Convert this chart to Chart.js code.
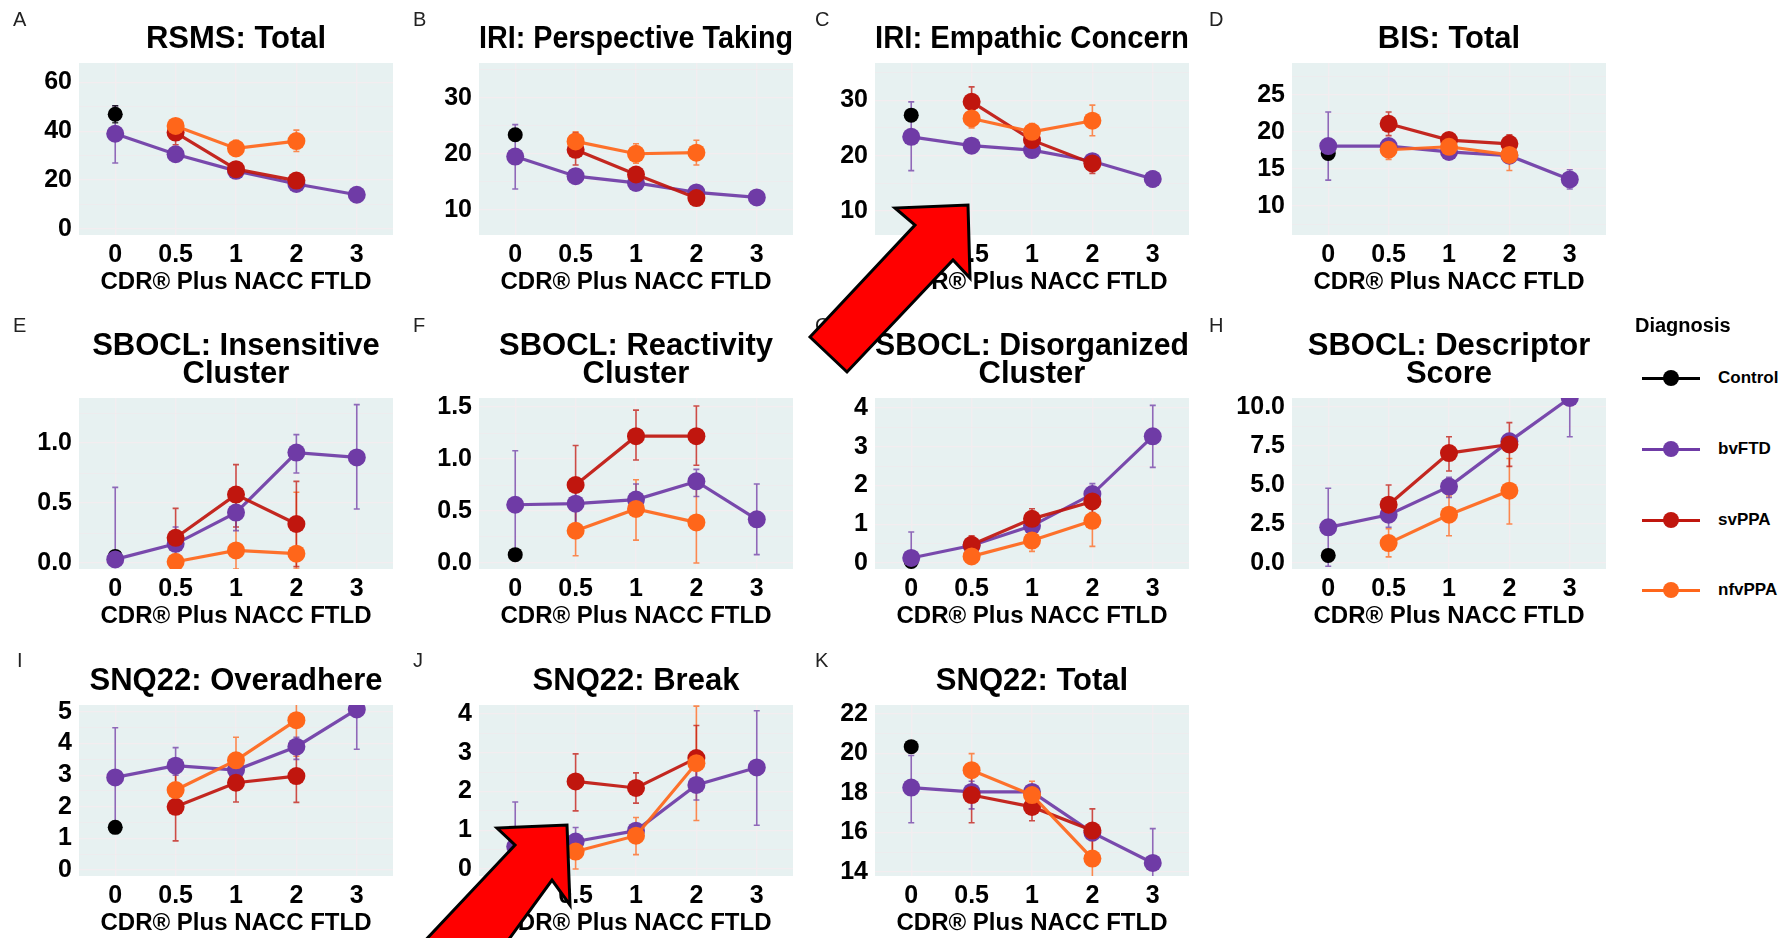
<!DOCTYPE html>
<html>
<head>
<meta charset="utf-8">
<script src="https://cdn.jsdelivr.net/npm/chart.js@4.4.1/dist/chart.umd.min.js"></script>
<style>
  body { margin: 0; background: #fff; width: 1785px; height: 938px; position: relative; overflow: hidden;
         font-family: 'Liberation Sans', Arial, sans-serif; }
  canvas { position: absolute; }
  .tag { position: absolute; font-size: 20px; line-height: 20px; color: #222; }
  .legend-title { position: absolute; left: 1635px; top: 313px; font-size: 20px; font-weight: bold; line-height: 24px; }
  .legend-row { position: absolute; left: 1642px; height: 20px; }
  .legend-row .ln { position: absolute; left: 0; top: 8.5px; width: 58px; height: 3px; }
  .legend-row .dot { position: absolute; left: 21px; top: 2px; width: 16px; height: 16px; border-radius: 50%; }
  .legend-row .lab { position: absolute; left: 76px; top: 0; font-size: 17px; font-weight: bold; line-height: 20px; white-space: nowrap; }
  svg.arrows { position: absolute; left: 0; top: 0; pointer-events: none; }
</style>
</head>
<body>
<script>
const _ = null;

const cdrLevels = ['0', '0.5', '1', '2', '3'];
const diagnoses = ['Control', 'bvFTD', 'svPPA', 'nfvPPA'];
const diagnosisColors = ['#000000', '#6f3ba6', '#c0160e', '#ff661a'];

// rows: Control, bvFTD, svPPA, nfvPPA   columns: CDR 0, 0.5, 1, 2, 3

// A  RSMS: Total
const rsmsMean = [[47, _, _, _, _], [39, 30.6, 23.8, 18.4, 14], [_, 39.5, 24.5, 19.8, _], [_, 42.2, 33, 36, _]];
const rsmsLow  = [[43.5, _, _, _, _], [27, 28.8, 22.3, 16.8, 12.3], [_, 34.5, 22.5, 18, _], [_, 40, 29.8, 31.7, _]];
const rsmsHigh = [[50.5, _, _, _, _], [50.5, 32.3, 25.3, 20, 15.7], [_, 43.5, 26.5, 21.5, _], [_, 44.5, 36.3, 40.5, _]];
const rsmsTicks = [0, 20, 40, 60];

// B  IRI: Perspective Taking
const iriPtMean = [[23.4, _, _, _, _], [19.5, 16, 14.8, 13.1, 12.2], [_, 20.7, 16.3, 12.1, _], [_, 22.2, 20, 20.2, _]];
const iriPtLow  = [[_, _, _, _, _], [13.7, 14.8, 13.8, 12.2, 11.4], [_, 18, 15.2, 10.8, _], [_, 20.7, 18.3, 18, _]];
const iriPtHigh = [[_, _, _, _, _], [25.2, 17.2, 15.8, 14, 13], [_, 23.7, 17.4, 13.7, _], [_, 23.9, 21.8, 22.4, _]];
const iriPtTicks = [10, 20, 30];

// C  IRI: Empathic Concern
const iriEcMean = [[27.3, _, _, _, _], [23.4, 21.8, 21, 19, 15.8], [_, 29.7, 22.8, 18.6, _], [_, 26.7, 24.3, 26.3, _]];
const iriEcLow  = [[_, _, _, _, _], [17.3, 20.8, 20.2, 18, 14.4], [_, 27, 21, 16.8, _], [_, 25, 22.8, 23.6, _]];
const iriEcHigh = [[_, _, _, _, _], [29.7, 22.8, 21.8, 20, 17.2], [_, 32.4, 24.5, 20.3, _], [_, 28, 25.8, 29.1, _]];
const iriEcTicks = [10, 20, 30];

// D  BIS: Total
const bisMean = [[17.1, _, _, _, _], [18.1, 18.1, 17.3, 16.8, 13.6], [_, 21.1, 18.9, 18.4, _], [_, 17.6, 18, 16.9, _]];
const bisLow  = [[_, _, _, _, _], [13.5, 17.3, 16.7, 16.2, 12.3], [_, 19.5, 18.2, 17.2, _], [_, 16.3, 17.2, 14.8, _]];
const bisHigh = [[_, _, _, _, _], [22.7, 18.9, 17.9, 17.4, 14.9], [_, 22.7, 19.6, 19.6, _], [_, 18.7, 18.7, 18.5, _]];
const bisTicks = [10, 15, 20, 25];

// E  SBOCL: Insensitive Cluster
const insensMean = [[0.055, _, _, _, _], [0.03, 0.16, 0.42, 0.92, 0.88], [_, 0.21, 0.57, 0.325, _], [_, 0.01, 0.105, 0.078, _]];
const insensLow  = [[_, _, _, _, _], [-0.03, 0.03, 0.27, 0.75, 0.45], [_, 0, 0.3, -0.03, _], [_, 0, -0.05, -0.05, _]];
const insensHigh = [[_, _, _, _, _], [0.63, 0.3, 0.57, 1.07, 1.32], [_, 0.455, 0.82, 0.68, _], [_, 0.02, 0.4, 0.59, _]];
const insensTicks = [0, 0.5, 1.0];

// F  SBOCL: Reactivity Cluster
const reactMean = [[0.08, _, _, _, _], [0.56, 0.57, 0.61, 0.785, 0.42], [_, 0.75, 1.22, 1.22, _], [_, 0.31, 0.52, 0.39, _]];
const reactLow  = [[_, _, _, _, _], [0.03, 0.35, 0.45, 0.64, 0.08], [_, 0.36, 0.99, 0.94, _], [_, 0.07, 0.22, 0, _]];
const reactHigh = [[_, _, _, _, _], [1.08, 0.76, 0.76, 0.9, 0.76], [_, 1.13, 1.47, 1.51, _], [_, 0.55, 0.8, 0.77, _]];
const reactTicks = [0, 0.5, 1.0, 1.5];

// G  SBOCL: Disorganized Cluster
const disorgMean = [[0.04, _, _, _, _], [0.13, 0.45, 0.96, 1.78, 3.27], [_, 0.47, 1.14, 1.59, _], [_, 0.17, 0.58, 1.09, _]];
const disorgLow  = [[_, _, _, _, _], [0, 0.3, 0.8, 1.55, 2.47], [_, 0.3, 0.95, 1.3, _], [_, 0.05, 0.3, 0.43, _]];
const disorgHigh = [[_, _, _, _, _], [0.8, 0.6, 1.1, 2.05, 4.07], [_, 0.7, 1.4, 1.97, _], [_, 0.3, 0.85, 1.66, _]];
const disorgTicks = [0, 1, 2, 3, 4];

// H  SBOCL: Descriptor Score
const descMean = [[0.49, _, _, _, _], [2.29, 3.1, 4.9, 7.8, 10.58], [_, 3.74, 7.05, 7.6, _], [_, 1.28, 3.1, 4.64, _]];
const descLow  = [[_, _, _, _, _], [-0.2, 2.3, 4.2, 7.2, 8.1], [_, 2.7, 5.9, 6.2, _], [_, 0.4, 1.75, 2.5, _]];
const descHigh = [[_, _, _, _, _], [4.8, 3.8, 5.5, 8.3, 12], [_, 5.0, 8.1, 9.0, _], [_, 2.2, 4.3, 6.7, _]];
const descTicks = [0, 2.5, 5, 7.5, 10];

// I  SNQ22: Overadhere
const overMean = [[1.35, _, _, _, _], [2.93, 3.3, 3.16, 3.9, 5.08], [_, 2.0, 2.76, 2.97, _], [_, 2.53, 3.47, 4.74, _]];
const overLow  = [[_, _, _, _, _], [1.3, 3.0, 2.95, 3.5, 3.82], [_, 0.92, 2.15, 2.14, _], [_, 1.9, 2.8, 3.6, _]];
const overHigh = [[_, _, _, _, _], [4.5, 3.87, 3.5, 4.2, 5.5], [_, 3.2, 3.4, 3.8, _], [_, 3.2, 4.2, 5.4, _]];
const overTicks = [0, 1, 2, 3, 4, 5];

// J  SNQ22: Break
const breakMean = [[0.4, _, _, _, _], [0.58, 0.71, 0.99, 2.17, 2.62], [_, 2.26, 2.09, 2.86, _], [_, 0.45, 0.86, 2.73, _]];
const breakLow  = [[_, _, _, _, _], [-0.5, 0.35, 0.85, 1.78, 1.13], [_, 1.5, 1.7, 2.0, _], [_, 0, 0.37, 1.25, _]];
const breakHigh = [[_, _, _, _, _], [1.73, 1.07, 1.15, 2.6, 4.08], [_, 2.97, 2.48, 3.7, _], [_, 0.8, 1.33, 4.2, _]];
const breakTicks = [0, 1, 2, 3, 4];

// K  SNQ22: Total
const snqMean = [[20.35, _, _, _, _], [18.28, 18.06, 18.06, 16.0, 14.46], [_, 17.9, 17.3, 16.1, _], [_, 19.16, 17.9, 14.68, _]];
const snqLow  = [[_, _, _, _, _], [16.5, 17.2, 17.7, 15.6, 13.6], [_, 16.5, 16.6, 15.0, _], [_, 18.4, 17.2, 13.7, _]];
const snqHigh = [[_, _, _, _, _], [19.9, 18.6, 18.4, 16.4, 16.2], [_, 19.0, 18.0, 17.2, _], [_, 20.0, 18.6, 15.6, _]];
const snqTicks = [14, 16, 18, 20, 22];

const panels = [
  { tag: 'A', title: ['RSMS: Total'], mean: rsmsMean, low: rsmsLow, high: rsmsHigh, ticks: rsmsTicks, yMin: -2.5, yMax: 68, dec: 0, col: 0, row: 0 },
  { tag: 'B', title: ['IRI: Perspective Taking'], mean: iriPtMean, low: iriPtLow, high: iriPtHigh, ticks: iriPtTicks, yMin: 5.5, yMax: 36.2, dec: 0, col: 1, row: 0 },
  { tag: 'C', title: ['IRI: Empathic Concern'], mean: iriEcMean, low: iriEcLow, high: iriEcHigh, ticks: iriEcTicks, yMin: 5.7, yMax: 36.7, dec: 0, col: 2, row: 0 },
  { tag: 'D', title: ['BIS: Total'], mean: bisMean, low: bisLow, high: bisHigh, ticks: bisTicks, yMin: 6.1, yMax: 29.3, dec: 0, col: 3, row: 0 },
  { tag: 'E', title: ['SBOCL: Insensitive', 'Cluster'], mean: insensMean, low: insensLow, high: insensHigh, ticks: insensTicks, yMin: -0.05, yMax: 1.375, dec: 1, col: 0, row: 1 },
  { tag: 'F', title: ['SBOCL: Reactivity', 'Cluster'], mean: reactMean, low: reactLow, high: reactHigh, ticks: reactTicks, yMin: -0.058, yMax: 1.587, dec: 1, col: 1, row: 1 },
  { tag: 'G', title: ['SBOCL: Disorganized', 'Cluster'], mean: disorgMean, low: disorgLow, high: disorgHigh, ticks: disorgTicks, yMin: -0.155, yMax: 4.26, dec: 0, col: 2, row: 1 },
  { tag: 'H', title: ['SBOCL: Descriptor', 'Score'], mean: descMean, low: descLow, high: descHigh, ticks: descTicks, yMin: -0.38, yMax: 10.58, dec: 1, col: 3, row: 1 },
  { tag: 'I', title: ['SNQ22: Overadhere'], mean: overMean, low: overLow, high: overHigh, ticks: overTicks, yMin: -0.19, yMax: 5.22, dec: 0, col: 0, row: 2 },
  { tag: 'J', title: ['SNQ22: Break'], mean: breakMean, low: breakLow, high: breakHigh, ticks: breakTicks, yMin: -0.18, yMax: 4.23, dec: 0, col: 1, row: 2 },
  { tag: 'K', title: ['SNQ22: Total'], mean: snqMean, low: snqLow, high: snqHigh, ticks: snqTicks, yMin: 13.8, yMax: 22.46, dec: 0, col: 2, row: 2 }
];

// page geometry
const plotLefts = [79, 479, 875, 1292];
const plotTops = [63, 398, 705];
const plotBottoms = [235, 569, 876];
const canvasTops = [0, 310, 650];
const titlePadTop = [26, 23, 18];
const tagLefts = [13, 413, 815, 1209];
const tagTops = [9, 315, 650];
const PLOT_W = 314, Y_AXIS_W = 76, X_AXIS_H = 64, PAD_R = 20;
const TITLE_SIZE = 31, TITLE_LH = 0.9;

const PANEL_BG = '#e7f1f1';
const GRID_MAJOR = '#f3edf0';
const GRID_MINOR = '#efebee';

Chart.defaults.font.family = "'Liberation Sans', Arial, sans-serif";
Chart.defaults.color = '#000';
Chart.defaults.animation = false;

const panelBackground = {
  id: 'panelBackground',
  beforeDraw(chart) {
    const { ctx, chartArea: a } = chart;
    ctx.save();
    ctx.fillStyle = PANEL_BG;
    ctx.fillRect(a.left, a.top, a.right - a.left, a.bottom - a.top);
    ctx.restore();
  }
};

const errorBars = {
  id: 'errorBars',
  beforeDatasetsDraw(chart) {
    const { ctx, chartArea: a, scales: { x, y } } = chart;
    ctx.save();
    ctx.beginPath();
    ctx.rect(a.left, a.top, a.right - a.left, a.bottom - a.top);
    ctx.clip();
    chart.data.datasets.slice().reverse().forEach(ds => {
      ds.data.forEach((p, i) => {
        const lo = ds.errLow[i], hi = ds.errHigh[i];
        if (lo == null || hi == null) return;
        const px = x.getPixelForValue(p.x);
        const y1 = y.getPixelForValue(lo), y2 = y.getPixelForValue(hi);
        ctx.strokeStyle = ds.errColor;
        ctx.lineWidth = 1.6;
        ctx.beginPath();
        ctx.moveTo(px, y1); ctx.lineTo(px, y2);
        ctx.moveTo(px - 3, y1); ctx.lineTo(px + 3, y1);
        ctx.moveTo(px - 3, y2); ctx.lineTo(px + 3, y2);
        ctx.stroke();
      });
    });
    ctx.restore();
  }
};

function hexA(hex, a) {
  const n = parseInt(hex.slice(1), 16);
  return `rgba(${n >> 16},${(n >> 8) & 255},${n & 255},${a})`;
}

function buildDatasets(p) {
  return diagnoses.map((name, g) => {
    const data = [], errLow = [], errHigh = [];
    p.mean[g].forEach((v, i) => {
      if (v == null) return;
      data.push({ x: i, y: v });
      errLow.push(p.low[g][i]);
      errHigh.push(p.high[g][i]);
    });
    const c = diagnosisColors[g];
    return {
      label: name,
      data, errLow, errHigh,
      errColor: hexA(c, 0.75),
      showLine: g > 0,
      borderColor: hexA(c, 0.92),
      borderWidth: 3.2,
      backgroundColor: c,
      pointBackgroundColor: c,
      pointBorderWidth: 0,
      pointRadius: g === 0 ? 7.5 : 9,
      pointHoverRadius: g === 0 ? 7.5 : 9,
      order: 3 - g
    };
  });
}

function minorTicks(major, min, max) {
  const step = major[1] - major[0];
  const out = [];
  for (let i = -1; i < major.length; i++) {
    const v = (i < 0 ? major[0] : major[i]) + (i < 0 ? -step / 2 : step / 2);
    if (v >= min && v <= max) out.push(v);
  }
  return out;
}

panels.forEach(p => {
  const left = plotLefts[p.col] - Y_AXIS_W;
  const top = canvasTops[p.row];
  const width = Y_AXIS_W + PLOT_W + PAD_R;
  const height = plotBottoms[p.row] + X_AXIS_H - top;
  const lineH = TITLE_SIZE * TITLE_LH;
  const padTop = titlePadTop[p.row];
  const padBottom = plotTops[p.row] - top - padTop - lineH * p.title.length;

  const cv = document.createElement('canvas');
  cv.width = width; cv.height = height;
  cv.style.left = left + 'px'; cv.style.top = top + 'px';
  cv.style.width = width + 'px'; cv.style.height = height + 'px';
  document.body.appendChild(cv);

  const tag = document.createElement('div');
  tag.className = 'tag';
  tag.textContent = p.tag;
  tag.style.left = (tagLefts[p.col] + (p.tag === 'I' ? 4 : 0)) + 'px';
  tag.style.top = tagTops[p.row] + 'px';
  document.body.appendChild(tag);

  const minors = minorTicks(p.ticks, p.yMin, p.yMax);
  const majorSet = new Set(p.ticks);

  new Chart(cv, {
    type: 'scatter',
    data: { datasets: buildDatasets(p) },
    options: {
      responsive: false,
      devicePixelRatio: 1,
      layout: { padding: { left: 0, top: 0, bottom: 0, right: PAD_R } },
      plugins: {
        legend: { display: false },
        tooltip: { enabled: false },
        title: {
          display: true,
          text: p.title,
          fullSize: false,
          color: '#000',
          font: { size: TITLE_SIZE, weight: 'bold', lineHeight: TITLE_LH },
          padding: { top: padTop, bottom: padBottom }
        }
      },
      scales: {
        x: {
          type: 'linear',
          min: -0.6,
          max: 4.6,
          afterBuildTicks: s => { s.ticks = cdrLevels.map((_l, i) => ({ value: i })); },
          afterFit: s => { s.height = X_AXIS_H; },
          ticks: {
            autoSkip: false, maxRotation: 0, padding: 5,
            font: { size: 25, weight: 'bold' }, color: '#000',
            callback: v => cdrLevels[v]
          },
          grid: { color: GRID_MAJOR, lineWidth: 1.3, drawTicks: false },
          border: { display: false },
          title: {
            display: true, text: 'CDR® Plus NACC FTLD', color: '#000',
            font: { size: 24, weight: 'bold' }, padding: { top: 0, bottom: 2 }
          }
        },
        y: {
          type: 'linear',
          min: p.yMin,
          max: p.yMax,
          afterBuildTicks: s => {
            s.ticks = p.ticks.concat(minors).sort((a, b) => a - b).map(v => ({ value: v }));
          },
          afterFit: s => { s.width = Y_AXIS_W; },
          ticks: {
            autoSkip: false,
            padding: 7, font: { size: 25, weight: 'bold' }, color: '#000',
            callback: v => majorSet.has(v) ? v.toFixed(p.dec) : ''
          },
          grid: {
            drawTicks: false,
            color: ctx => majorSet.has(ctx.tick && ctx.tick.value) ? GRID_MAJOR : GRID_MINOR,
            lineWidth: ctx => majorSet.has(ctx.tick && ctx.tick.value) ? 1.3 : 0.8
          },
          border: { display: false }
        }
      }
    },
    plugins: [panelBackground, errorBars]
  });
});

// legend
const lt = document.createElement('div');
lt.className = 'legend-title';
lt.textContent = 'Diagnosis';
document.body.appendChild(lt);
const legendYs = [378, 449, 520, 590];
diagnoses.forEach((name, g) => {
  const row = document.createElement('div');
  row.className = 'legend-row';
  row.style.top = (legendYs[g] - 10) + 'px';
  row.innerHTML = `<div class="ln" style="background:${diagnosisColors[g]}"></div>` +
    `<div class="dot" style="background:${diagnosisColors[g]}"></div>` +
    `<div class="lab">${name}</div>`;
  document.body.appendChild(row);
});

// red annotation arrows laid over the figure
const svgNS = 'http://www.w3.org/2000/svg';
const svg = document.createElementNS(svgNS, 'svg');
svg.setAttribute('class', 'arrows');
svg.setAttribute('width', 1785);
svg.setAttribute('height', 938);
const arrowShapes = [
  '810,337 915,225 895,208 968,205 970,278 953,260 847,372',
  '420,946 515,845 497,828 567,825 570,905 552,880 504,946'
];
arrowShapes.forEach(pts => {
  const poly = document.createElementNS(svgNS, 'polygon');
  poly.setAttribute('points', pts);
  poly.setAttribute('fill', '#ff0000');
  poly.setAttribute('stroke', '#000');
  poly.setAttribute('stroke-width', '3');
  poly.setAttribute('stroke-linejoin', 'miter');
  svg.appendChild(poly);
});
document.body.appendChild(svg);
</script>
</body>
</html>
